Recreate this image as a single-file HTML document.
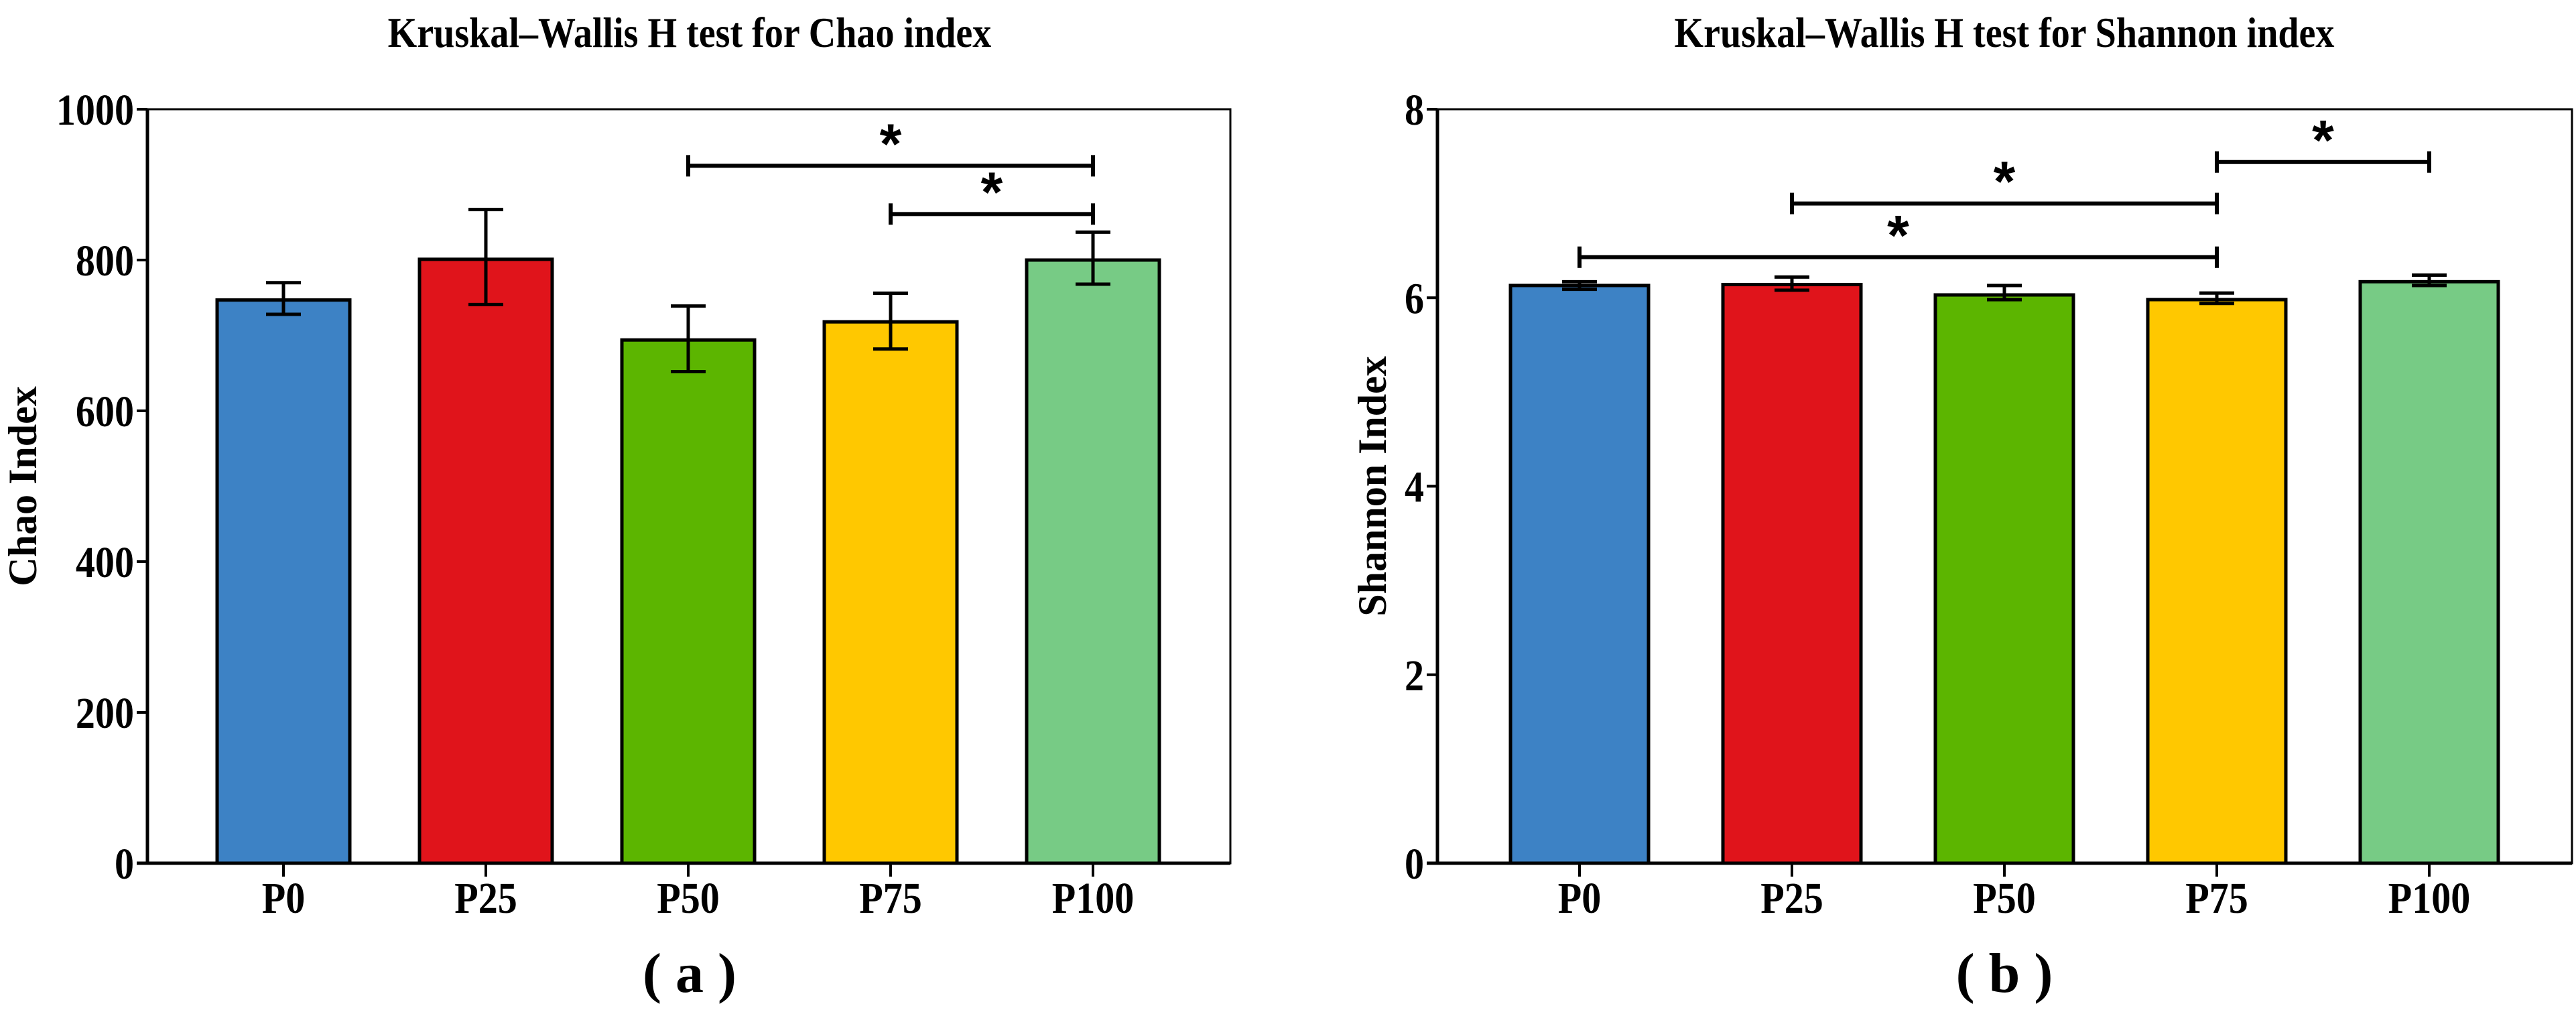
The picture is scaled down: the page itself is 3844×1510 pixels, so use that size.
<!DOCTYPE html>
<html><head><meta charset="utf-8"><style>
html,body{margin:0;padding:0;background:#fff;}
svg{display:block;}
text{font-family:"Liberation Serif",serif;font-weight:bold;fill:#000;}
</style></head><body>
<svg id="fig" width="3844" height="1510" viewBox="0 0 3844 1510" xmlns="http://www.w3.org/2000/svg"></svg>
<script>
const categories = ["P0","P25","P50","P75","P100"];
const colors = ["#3d82c5","#e0141b","#5cb500","#ffc800","#77cb85"];
const chaoValues = [747, 801, 694, 718, 800];
const chaoErrLow = [728, 741, 652, 682, 768];
const chaoErrHigh = [770, 867, 739, 756, 837];
const chaoTicks = [0, 200, 400, 600, 800, 1000];
const chaoSig = [[2,4,925],[3,4,861]];
const shanValues = [6.13, 6.14, 6.03, 5.98, 6.17];
const shanErrLow = [6.09, 6.08, 5.98, 5.94, 6.13];
const shanErrHigh = [6.17, 6.22, 6.13, 6.05, 6.24];
const shanTicks = [0, 2, 4, 6, 8];
const shanSig = [[0,3,6.43],[1,3,7.0],[3,4,7.44]];

const NS="http://www.w3.org/2000/svg";
const svg=document.getElementById('fig');
function mk(tag,attrs,parent){const e=document.createElementNS(NS,tag);for(const k in attrs)e.setAttribute(k,attrs[k]);(parent||svg).appendChild(e);return e;}

function drawPanel(p){
  const g=mk('g',{});
  
  
  const y=v=>p.bottom-(v-p.ymin)/(p.ymax-p.ymin)*(p.bottom-p.top);
  const x=i=>p.x0+i*p.step;
  const t=mk('text',{x:0,y:0,'font-size':63,'text-anchor':'middle',transform:`translate(${p.titleX},70) scale(0.89,1)`},g);
  t.textContent=p.title;
  
  
  categories.forEach((c,i)=>{
    const v=p.values[i],bx=x(i)-p.bw/2,by=y(v);
    const r=mk('rect',{x:bx,y:by,width:p.bw,height:y(p.ymin)-by,fill:colors[i],stroke:'#000','stroke-width':5},g);
    
    
    const eg=mk('g',{stroke:'#000','stroke-width':5},g);
    
    
    mk('line',{x1:x(i),x2:x(i),y1:y(p.lo[i]),y2:y(p.hi[i])},eg);
    mk('line',{x1:x(i)-26,x2:x(i)+26,y1:y(p.lo[i]),y2:y(p.lo[i])},eg);
    mk('line',{x1:x(i)-26,x2:x(i)+26,y1:y(p.hi[i]),y2:y(p.hi[i])},eg);
    mk('line',{x1:x(i),x2:x(i),y1:p.bottom,y2:p.bottom+20,stroke:'#000','stroke-width':4},g);
    const xl=mk('text',{x:0,y:0,'font-size':66,'text-anchor':'middle',transform:`translate(${x(i)},1362) scale(0.88,1)`},g);
    xl.textContent=c;
    
    
  });
  const fr=mk('rect',{x:p.left,y:p.top,width:p.right-p.left,height:p.bottom-p.top,fill:'none',stroke:'#000','stroke-width':3},g);
  
  
  mk('line',{x1:p.left,x2:p.left,y1:p.top,y2:p.bottom,stroke:'#000','stroke-width':5},g);
  mk('line',{x1:p.left-16,x2:p.right,y1:p.bottom,y2:p.bottom,stroke:'#000','stroke-width':5},g);
  p.ticks.forEach(tv=>{
    mk('line',{x1:p.left-16,x2:p.left,y1:y(tv),y2:y(tv),stroke:'#000','stroke-width':4},g);
    const tl=mk('text',{x:0,y:0,'font-size':66,'text-anchor':'end',transform:`translate(${p.left-20},${y(tv)+23}) scale(0.88,1)`},g);
    tl.textContent=String(tv);
    
    
  });
  const yt=mk('text',{x:0,y:0,'font-size':60,'text-anchor':'middle',transform:`translate(${p.ytX},${(p.top+p.bottom)/2}) rotate(-90)`},g);
  yt.textContent=p.ytitle;
  
  
  p.sig.forEach(s=>{
    const sg=mk('g',{stroke:'#000','stroke-width':6},g);
    
    
    const x1=x(s[0]),x2=x(s[1]),yy=y(s[2]);
    mk('line',{x1:x1,x2:x2,y1:yy,y2:yy},sg);
    mk('line',{x1:x1,x2:x1,y1:yy-16,y2:yy+16},sg);
    mk('line',{x1:x2,x2:x2,y1:yy-16,y2:yy+16},sg);
    const a=mk('text',{x:(x1+x2)/2,y:yy-4,'font-size':84,'text-anchor':'middle',style:'font-family:"Liberation Sans",sans-serif;font-weight:bold'},g);
    a.textContent='*';
    
    
  });
  const lab=mk('text',{x:p.titleX,y:1480,'font-size':84,'text-anchor':'middle'},g);
  lab.textContent=p.label;
  
  
}
drawPanel({id:'chao',title:'Kruskal–Wallis H test for Chao index',titleX:1029,left:220,right:1836,top:163,bottom:1288,
  ymin:0,ymax:1000,x0:423,step:302,bw:198,values:chaoValues,lo:chaoErrLow,hi:chaoErrHigh,ticks:chaoTicks,
  ytitle:'Chao Index',ytX:54,sig:chaoSig,label:'( a )'});
drawPanel({id:'shannon',title:'Kruskal–Wallis H test for Shannon index',titleX:2991,left:2145,right:3838,top:163,bottom:1288,
  ymin:0,ymax:8,x0:2357,step:317,bw:206,values:shanValues,lo:shanErrLow,hi:shanErrHigh,ticks:shanTicks,
  ytitle:'Shannon Index',ytX:2068,sig:shanSig,label:'( b )'});
</script>
</body></html>
